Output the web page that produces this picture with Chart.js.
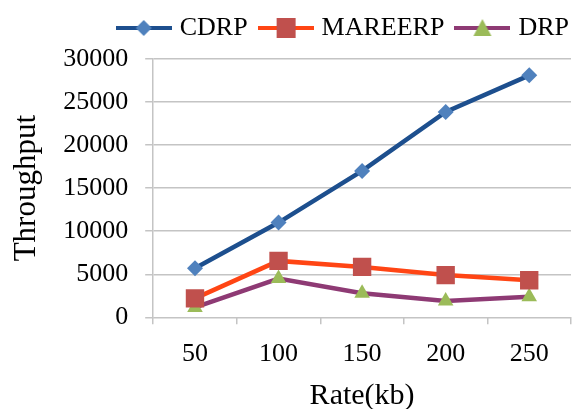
<!DOCTYPE html>
<html>
<head>
<meta charset="utf-8">
<script src="https://cdn.jsdelivr.net/npm/chart.js@4/dist/chart.umd.min.js"></script>
<style>
  html, body { margin: 0; padding: 0; background: #fff; }
  #wrap { width: 584px; height: 409px; }
</style>
</head>
<body>
<div id="wrap"><canvas id="c" width="584" height="409"></canvas></div>
<script>
// Throughput vs. rate for three routing protocols
const rates = ['50', '100', '150', '200', '250'];
const cdrp = [5700, 11000, 17000, 23850, 28100];
const mareerp = [2200, 6550, 5850, 4900, 4300];
const drp = [1150, 4500, 2800, 1900, 2400];
const yTicks = [0, 5000, 10000, 15000, 20000, 25000, 30000];

const FONT = '"Liberation Serif", "Times New Roman", serif';

// Legend symbol: a short line segment with the series marker in the middle
function legendSymbol(lineColor, markerColor, shape) {
  const cv = document.createElement('canvas');
  cv.width = 56; cv.height = 22;
  const g = cv.getContext('2d');
  g.strokeStyle = lineColor; g.lineWidth = 4;
  g.beginPath(); g.moveTo(0, 11); g.lineTo(56, 11); g.stroke();
  g.fillStyle = markerColor;
  g.beginPath();
  if (shape === 'diamond') {
    g.moveTo(28, 3); g.lineTo(36, 11); g.lineTo(28, 19); g.lineTo(20, 11);
  } else if (shape === 'square') {
    g.rect(19, 1, 19, 20);
  } else {
    g.moveTo(28, 2); g.lineTo(37, 19); g.lineTo(19, 19);
  }
  g.closePath(); g.fill();
  return cv;
}

const series = [
  { label: 'CDRP', data: cdrp, line: '#1D4F8E', marker: '#4F81BD', style: 'rectRot', radius: 8, shape: 'diamond' },
  { label: 'MAREERP', data: mareerp, line: '#FF4514', marker: '#C0504D', style: 'rect', radius: 13, shape: 'square' },
  { label: 'DRP', data: drp, line: '#8E3A74', marker: '#9BBB59', style: 'triangle', radius: 9, shape: 'triangle' }
];

const symbols = series.map(s => legendSymbol(s.line, s.marker, s.shape));

// Leaves a little extra room between the legend row and the plot
const legendGap = {
  id: 'legendGap',
  beforeLayout(chart) {
    const lg = chart.legend;
    if (lg && !lg._gapPatched) {
      const fit = lg.fit;
      lg.fit = function () { fit.call(this); this.height += 8; };
      lg._gapPatched = true;
    }
  }
};

new Chart(document.getElementById('c'), {
  type: 'line',
  plugins: [legendGap],
  data: {
    labels: rates,
    datasets: series.map(s => ({
      label: s.label,
      data: s.data,
      borderColor: s.line,
      borderWidth: 4.5,
      backgroundColor: s.marker,
      pointBackgroundColor: s.marker,
      pointBorderColor: s.marker,
      pointBorderWidth: 0,
      pointStyle: s.style,
      pointRadius: s.radius,
      tension: 0
    }))
  },
  options: {
    responsive: false,
    animation: false,
    layout: { padding: { top: 0, right: 0, left: 8, bottom: 0 } },
    plugins: {
      tooltip: { enabled: false },
      legend: {
        position: 'top',
        align: 'end',
        labels: {
          usePointStyle: true,
          pointStyleWidth: 46,
          boxHeight: 22,
          padding: 15,
          color: '#000',
          font: { family: FONT, size: 26 },
          generateLabels(chart) {
            return chart.data.datasets.map((d, i) => ({
              text: d.label,
              pointStyle: symbols[i],
              fillStyle: d.backgroundColor,
              strokeStyle: d.borderColor,
              lineWidth: 0,
              datasetIndex: i,
              hidden: false
            }));
          }
        }
      }
    },
    scales: {
      x: {
        offset: true,
        grid: {
          offset: true,
          drawOnChartArea: false,
          drawTicks: true,
          tickLength: 7,
          color: '#C4C4C4',
          lineWidth: 1.5
        },
        border: { display: false },
        ticks: { color: '#000', font: { family: FONT, size: 26 }, padding: 14 },
        title: {
          display: true, text: 'Rate(kb)', color: '#000',
          font: { family: FONT, size: 30, lineHeight: 0.85 },
          padding: { top: 0, bottom: 0 }
        }
      },
      y: {
        min: 0,
        max: 30000,
        afterBuildTicks(axis) { axis.ticks = yTicks.map(v => ({ value: v })); },
        grid: { color: '#C4C4C4', lineWidth: 1.5, tickLength: 8 },
        border: { display: true, color: '#C4C4C4', width: 1.5 },
        ticks: {
          color: '#000',
          font: { family: FONT, size: 26 },
          padding: 17,
          callback: v => String(v)
        },
        title: { display: true, text: 'Throughput', color: '#000', font: { family: FONT, size: 31 }, padding: { top: 0, bottom: 1 } }
      }
    }
  }
});
</script>
</body>
</html>
